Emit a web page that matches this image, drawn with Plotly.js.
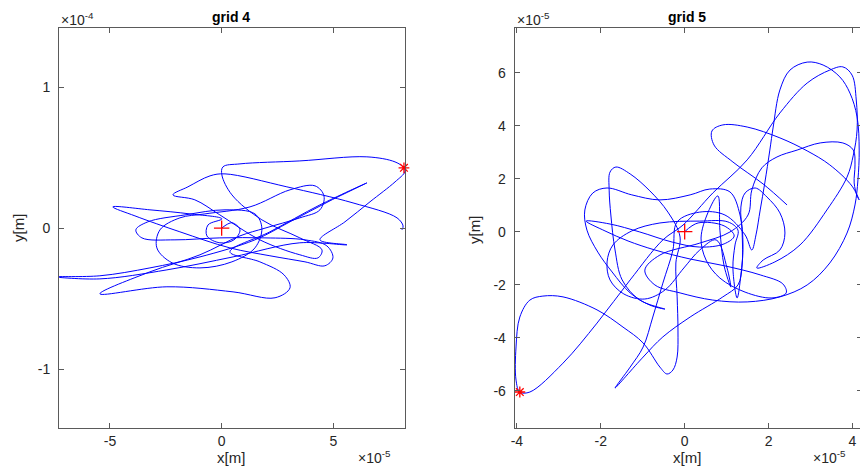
<!DOCTYPE html>
<html><head><meta charset="utf-8">
<script src="https://cdn.plot.ly/plotly-3.0.1.min.js"></script>
<style>html,body{margin:0;padding:0;overflow:hidden;background:#fff}</style>
</head><body>
<div id="chart" style="width:864px;height:468px"></div>
<script>
// grid 4 trajectory: x in units of 1e-5 m, y in units of 1e-4 m
const g4X = [0,0.46,0.82,0.55,-0.08,-0.66,-0.61,0.01,-1.42,-3.21,
-4.87,-3.88,-1.87,0.37,2.16,3.73,4.62,4.98,4.71,3.73,
1.94,-0.08,-2.09,-3.57,-3.84,-3.30,-1.64,0.15,1.49,1.80,
1.49,0.46,-0.97,-2.22,-2.90,-2.76,-1.87,-0.75,1.27,3.06,
4.18,4.58,4.40,3.50,1.94,0.82,-0.97,-3.21,-5.45,-2.45,
0.51,2.39,3.06,2.79,1.71,0.37,2.16,4.40,6.50,4.85,
3.06,1.49,-0.97,-3.21,-5.45,-7.46,-5.45,-2.45,0.51,3.50,
5.61,4.40,5.52,6.64,7.76,8.20,8.16,7.76,6.50,3.50,
0.82,0.06,0.01,0.46,1.80,3.50,4.49,4.31,3.50,1.71,
-0.08,-1.20,-2.18,-1.51,-0.52,0.15,2.92,5.88,7.85,8.12,8.07];
const g4Y = [0,0.038,-0.012,-0.083,-0.104,-0.055,0.023,0.066,0.101,0.130,
0.151,0.087,-0.026,-0.140,-0.196,-0.239,-0.267,-0.211,-0.126,-0.083,
-0.069,-0.069,-0.083,-0.069,-0.012,0.045,0.094,0.130,0.101,0,
-0.140,-0.239,-0.282,-0.246,-0.140,-0.012,0.073,0.101,0.151,0.272,
0.300,0.229,0.130,0.073,0,-0.055,-0.189,-0.310,-0.466,-0.416,
-0.452,-0.494,-0.423,-0.331,-0.239,-0.168,-0.026,0.165,0.321,0.194,
0.045,-0.083,-0.204,-0.282,-0.338,-0.345,-0.360,-0.296,-0.204,-0.104,
-0.118,-0.083,0.045,0.187,0.328,0.399,0.428,0.470,0.506,0.477,
0.456,0.435,0.378,0.236,0.059,-0.069,-0.154,-0.211,-0.189,-0.083,
0.094,0.201,0.236,0.293,0.371,0.385,0.293,0.179,0.073,0.016,-0.012];
const g4StartX = [0], g4StartY = [0];
const g4StarX = [8.16], g4StarY = [0.428];

// grid 5 trajectory: x and y in units of 1e-5 m
const g5X = [0,0.32,0.94,1.18,0.94,0.36,-0.30,-1.07,-1.78,-2.35,
-1.90,-1.35,-0.71,0.13,0.96,1.80,2.34,2.42,2.08,1.44,
0.84,0.51,0.39,0.56,0.79,0.84,0.94,1.10,1.01,0.75,
0.36,-0.02,-0.47,-0.95,-1.45,-1.78,-1.85,-1.71,-1.26,-0.59,
0.36,1.03,1.27,1.20,1.15,1.25,1.34,1.39,1.32,1.08,
0.60,0.13,-0.59,-1.26,-1.85,-2.19,-2.38,-2.33,-2.07,-1.73,
-1.30,-0.83,-0.47,-1.07,-1.49,-1.66,-1.76,-1.80,-1.78,-1.64,
-1.30,-0.83,-0.40,-0.11,-0.21,
-0.18,-0.16,-0.18,-0.28,-0.42,-0.59,-0.99,-1.47,-2.09,-2.90,-3.38,-3.69,-3.93,-4.02,-4.02,-3.93,
-3.69,-2.90,-2.09,-1.30,-0.52,-0.04,0.67,1.49,2.27,2.92,3.46,3.77,3.99,4.09,4.11,4.02,3.87,3.39,2.75,2.15,1.72,
1.87,2.27,2.39,2.27,1.96,1.68,1.44,1.34,1.37,1.37,
1.27,0.91,0.13,-0.52,-0.99,-1.66,-1.30,-0.99,-0.76,-0.52,
-0.28,-0.18,0.36,0.96,1.44,1.60,1.70,1.80,1.91,2.03,
2.11,2.27,2.51,2.92,3.30,3.70,3.94,4.11,4.16,4.13,
4.06,3.87,3.46,2.92,2.27,1.49,0.67,-0.11,-0.71,-0.95,
-0.59,0.36,1.08,1.51,
1.60,1.84,2.20,2.68,3.23,3.77,4.02,4.06,4.04,4.11,4.16,3.99,3.46,2.92,2.27,1.49,0.91,0.65,0.70,1.15,1.87,2.44];
const g5Y = [0,0.33,0.22,-0.16,-0.46,-0.58,-0.39,-0.01,0.29,0.40,
0.03,-0.35,-0.69,-1.03,-1.29,-1.63,-1.97,-2.31,-2.50,-2.28,
-1.75,-1.07,-0.24,0.74,1.35,0.06,-1.29,-2.09,-1.37,-0.31,
-0.69,-1.37,-2.20,-2.54,-2.35,-1.82,-1.14,-0.50,0.03,0.33,
0.40,0.37,0.06,-0.50,-1.37,-2.50,-1.63,-0.50,0.63,1.50,
1.61,1.39,1.20,1.39,1.65,1.46,0.82,0.06,-0.77,-1.52,
-2.31,-2.77,-2.92,-2.58,-1.82,-0.69,0.63,1.57,2.25,2.44,
2.18,1.54,0.74,-0.20,-1.18,
-2.46,-3.71,-4.73,-5.22,-5.37,-5.11,-4.20,-3.60,-2.95,-2.46,-2.43,-2.58,-3.22,-4.35,-5.60,-6.05,
-6.05,-4.96,-3.45,-1.82,-0.31,0.25,1.46,2.71,4.48,5.61,6.10,6.22,5.91,4.97,3.84,2.89,2.06,0.82,-0.50,-1.14,-1.37,
-1.07,-0.69,-0.05,0.71,1.31,1.65,1.46,0.93,-0.05,-1.26,
-2.01,-2.46,-3.22,-3.97,-4.73,-5.90,-5.11,-4.35,-3.22,-1.94,
-0.69,0.37,0.74,0.63,-0.12,-0.69,-0.12,0.82,1.84,3.08,
3.95,5.35,6.10,6.40,6.29,5.84,5.23,4.33,3.08,1.95,
1.01,-0.05,-1.18,-2.01,-2.46,-2.65,-2.58,-2.31,-2.01,-1.45,
-0.88,-0.43,-0.01,0.63,
1.57,2.41,2.82,3.08,3.35,3.35,3.08,2.52,1.84,1.35,1.20,1.72,2.52,3.05,3.54,3.95,4.03,3.80,3.27,2.63,1.80,1.01];
const g5StartX = [0], g5StartY = [0];
const g5StarX = [-3.93], g5StarY = [-6.05];

const g4XTicks = [-5,0,5], g4YTicks = [-1,0,1];
const g5XTicks = [-4,-2,0,2,4], g5YTicks = [-6,-4,-2,0,2,4,6];
const titles = ['grid 4','grid 5'];

const W = 864, H = 468;
const px = v => v / W, py = v => (H - v) / H;
const FONT = 'Liberation Sans, Arial, Helvetica, sans-serif';
const TXT = '#262626', AX = '#5a5a5a';

const lineStyle = {color:'#0000ff', width:1, shape:'spline', smoothing:1};
function curve(x,y,xa,ya){return {x,y,xaxis:xa,yaxis:ya,mode:'lines',line:lineStyle,hoverinfo:'skip',showlegend:false};}
function mark(x,y,xa,ya,sym,size){return {x,y,xaxis:xa,yaxis:ya,mode:'markers',cliponaxis:false,hoverinfo:'skip',showlegend:false,
  marker:{symbol:sym,size:size,color:'#ff0000',line:{color:'#ff0000',width:1.3}}};}

const data = [
  curve(g4X,g4Y,'x','y'),
  mark(g4StartX,g4StartY,'x','y','cross-thin-open',11),
  mark(g4StarX,g4StarY,'x','y','asterisk-open',9),
  curve(g5X,g5Y,'x2','y2'),
  mark(g5StartX,g5StartY,'x2','y2','cross-thin-open',11),
  mark(g5StarX,g5StarY,'x2','y2','asterisk-open',9)
];

function axis(extra){
  return Object.assign({showgrid:false, zeroline:false, showline:true, linecolor:AX, linewidth:1,
    mirror:'ticks', ticks:'inside', ticklen:5, tickcolor:AX, tickwidth:1,
    tickfont:{family:FONT,size:14,color:TXT}, tickmode:'array', fixedrange:true}, extra);
}
const yTop = py(28), yBot = py(428.3);
const layout = {
  width:W, height:H, margin:{l:0,r:0,t:0,b:0}, paper_bgcolor:'#fff', plot_bgcolor:'#fff', showlegend:false,
  xaxis: axis({domain:[px(59),px(405.3)], range:[-7.28,8.22], tickvals:g4XTicks, ticktext:g4XTicks.map(String), anchor:'y', ticklabelstandoff:0}),
  yaxis: axis({domain:[yBot,yTop], range:[-1.42,1.42], tickvals:g4YTicks, ticktext:g4YTicks.map(String), anchor:'x', ticklabelstandoff:5}),
  xaxis2: axis({domain:[px(514.7),px(862)], range:[-4.052,4.227], tickvals:g5XTicks, ticktext:g5XTicks.map(String), anchor:'y2', ticklabelstandoff:0}),
  yaxis2: axis({domain:[yBot,yTop], range:[-7.419,7.687], tickvals:g5YTicks, ticktext:g5YTicks.map(String), anchor:'x2', ticklabelstandoff:5}),
  annotations: [
    {text:'<b>'+titles[0]+'</b>', x:px(231), y:py(17), xref:'paper', yref:'paper', showarrow:false, xanchor:'center', yanchor:'middle', font:{family:FONT,size:14,color:'#000'}},
    {text:'<b>'+titles[1]+'</b>', x:px(687), y:py(17), xref:'paper', yref:'paper', showarrow:false, xanchor:'center', yanchor:'middle', font:{family:FONT,size:14,color:'#000'}},
    {text:'x[m]', x:px(231), y:py(457), xref:'paper', yref:'paper', showarrow:false, xanchor:'center', yanchor:'middle', font:{family:FONT,size:15,color:TXT}},
    {text:'x[m]', x:px(687), y:py(457), xref:'paper', yref:'paper', showarrow:false, xanchor:'center', yanchor:'middle', font:{family:FONT,size:15,color:TXT}},
    {text:'y[m]', x:px(18), y:py(228), xref:'paper', yref:'paper', showarrow:false, textangle:-90, xanchor:'center', yanchor:'middle', font:{family:FONT,size:15,color:TXT}},
    {text:'y[m]', x:px(474), y:py(230), xref:'paper', yref:'paper', showarrow:false, textangle:-90, xanchor:'center', yanchor:'middle', font:{family:FONT,size:15,color:TXT}},
    {text:'\u00d710<sup>-4</sup>', x:px(59), y:py(19), xref:'paper', yref:'paper', showarrow:false, xanchor:'left', yanchor:'middle', font:{family:FONT,size:14,color:TXT}},
    {text:'\u00d710<sup>-5</sup>', x:px(515), y:py(19), xref:'paper', yref:'paper', showarrow:false, xanchor:'left', yanchor:'middle', font:{family:FONT,size:14,color:TXT}},
    {text:'\u00d710<sup>-5</sup>', x:px(356), y:py(457), xref:'paper', yref:'paper', showarrow:false, xanchor:'left', yanchor:'middle', font:{family:FONT,size:14,color:TXT}},
    {text:'\u00d710<sup>-5</sup>', x:px(811), y:py(457), xref:'paper', yref:'paper', showarrow:false, xanchor:'left', yanchor:'middle', font:{family:FONT,size:14,color:TXT}}
  ]
};
Plotly.newPlot('chart', data, layout, {displayModeBar:false, staticPlot:true});
</script>
</body></html>
